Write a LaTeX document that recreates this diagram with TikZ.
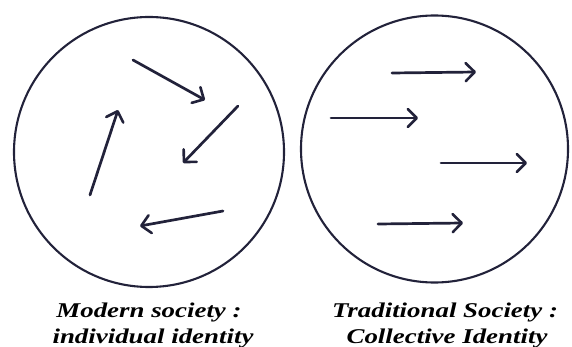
\documentclass[tikz,border=0pt]{standalone}
\usepackage{fontspec}
\setmainfont{Liberation Serif}
\usetikzlibrary{arrows.meta}
\definecolor{ink}{RGB}{34,34,58}
\begin{document}
\begin{tikzpicture}[x=1pt,y=-1pt,
  ring/.style={draw=ink,line width=2.1pt},
  arr/.style={draw=ink,line width=2.7pt,line cap=round,
    -{Straight Barb[length=9pt,width=18pt,line width=2.6pt,round]}},
  lab/.style={font=\fontsize{21}{21}\selectfont\bfseries\itshape,text=black,anchor=base,xscale=1.28,transform shape,inner sep=0pt}]
\useasboundingbox (0,0) rectangle (572,347);
% circles
\node[ring,circle,minimum size=270pt,inner sep=0pt] (L) at (149,152) {};
\node[ring,circle,minimum size=267pt,inner sep=0pt] (R) at (434.5,149) {};
% left arrows
\coordinate (a1s) at (133,60);  \coordinate (a1e) at (205,100);
\coordinate (a2s) at (238,106); \coordinate (a2e) at (183,163);
\coordinate (a3s) at (223,211); \coordinate (a3e) at (140,226);
\coordinate (a4s) at (90,195);  \coordinate (a4e) at (118,110);
\draw[arr] (a1s) -- (a1e);
\draw[arr] (a2s) -- (a2e);
\draw[arr] (a3s) -- (a3e);
\draw[arr] (a4s) -- (a4e);
% right arrows
\coordinate (b1s) at (392,73);  \coordinate (b1e) at (476,72);
\coordinate (b2s) at (331,118); \coordinate (b2e) at (418,118);
\coordinate (b3s) at (441,163); \coordinate (b3e) at (527,163);
\coordinate (b4s) at (378,224); \coordinate (b4e) at (463,223);
\draw[arr] (b1s) -- (b1e);
\draw[arr] (b2s) -- (b2e);
\draw[arr] (b3s) -- (b3e);
\draw[arr] (b4s) -- (b4e);
% labels
\node[lab] (t1) at (149,317) {Modern society :};
\node[lab] (t2) at (153,343) {individual identity};
\node[lab] (t3) at (445,317) {Traditional Society :};
\node[lab] (t4) at (447,343) {Collective Identity};
\end{tikzpicture}
\end{document}
